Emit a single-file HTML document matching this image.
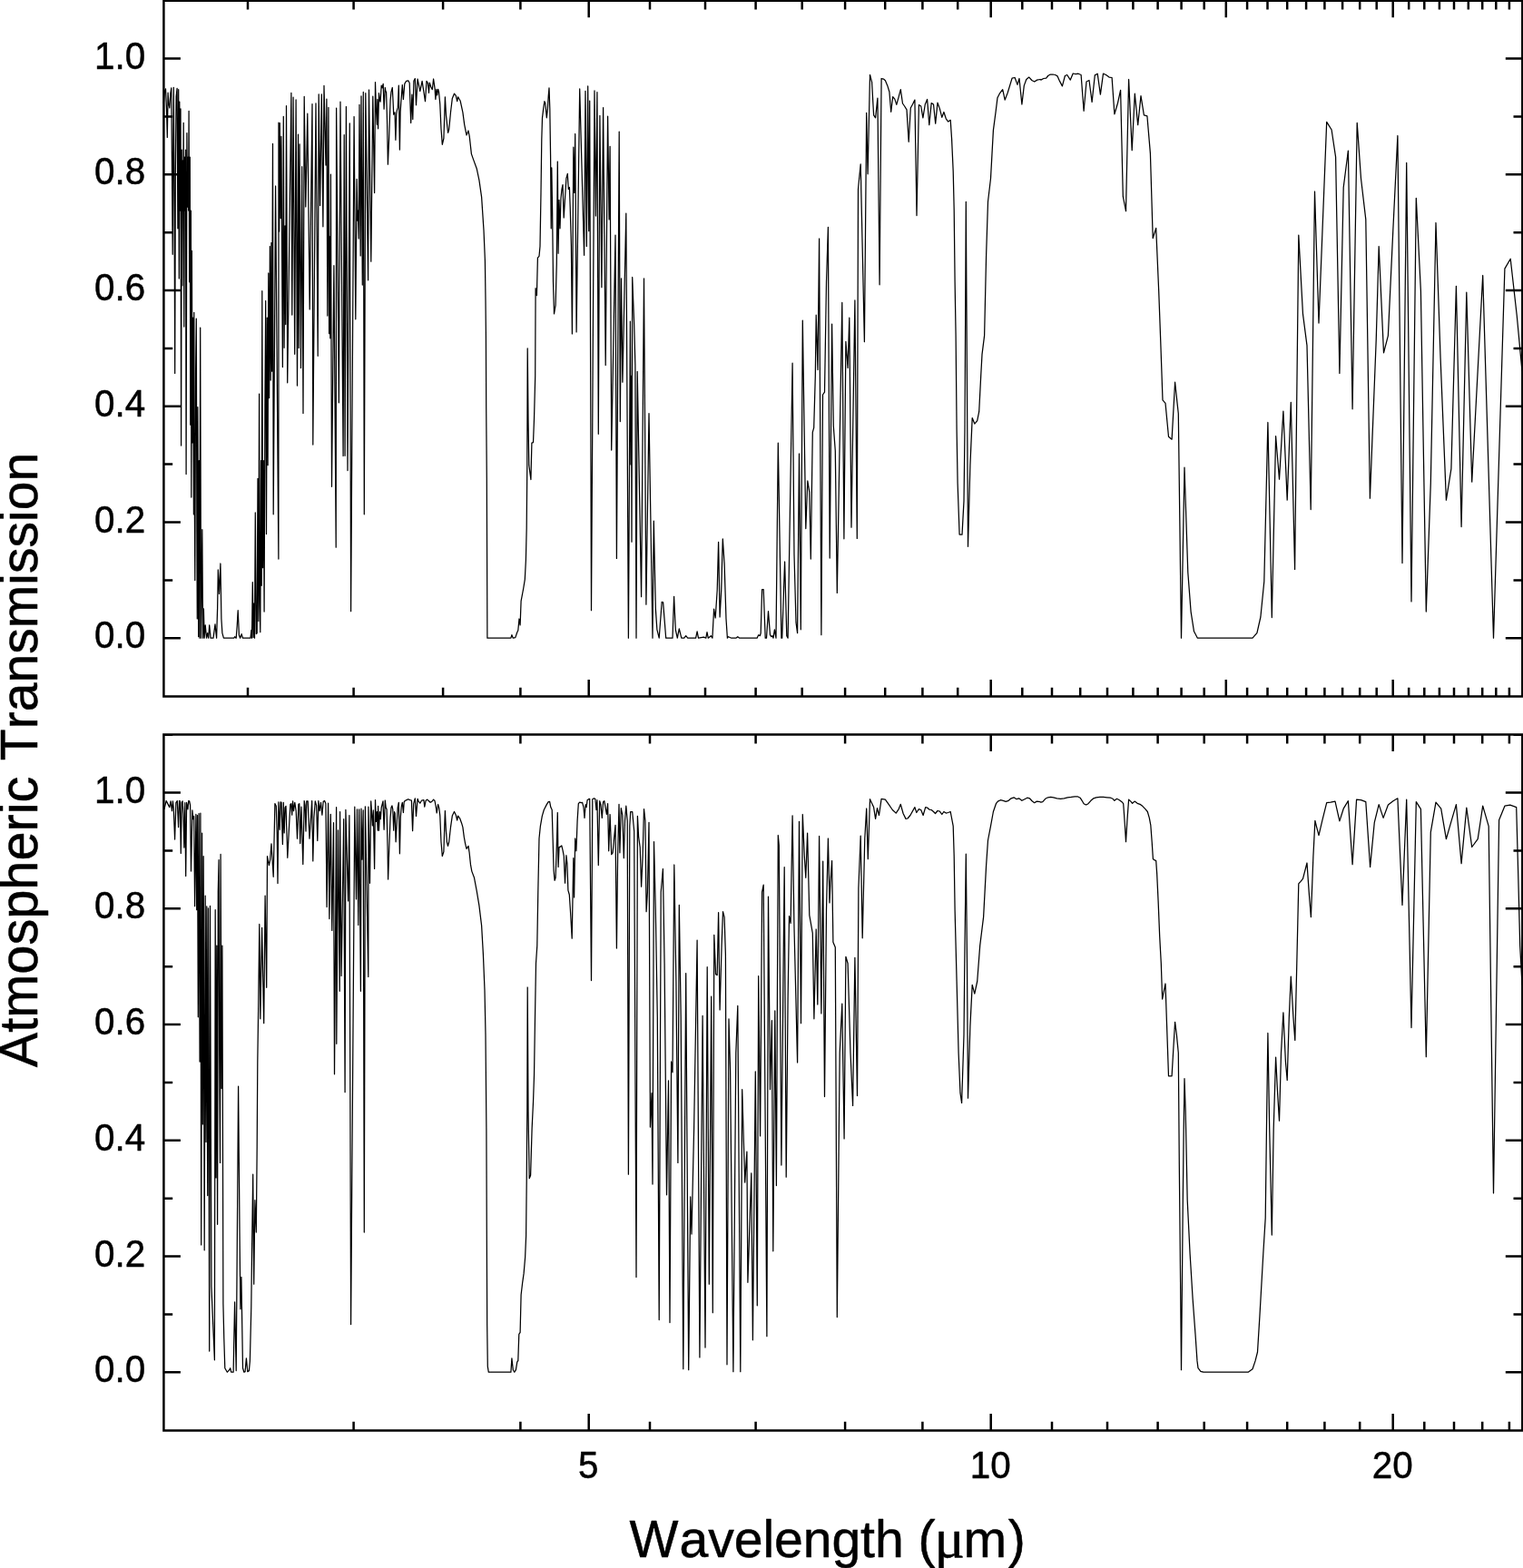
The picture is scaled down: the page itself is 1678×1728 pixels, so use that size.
<!DOCTYPE html>
<html lang="en"><head><meta charset="utf-8"><title>Atmospheric Transmission</title>
<style>
html,body{margin:0;padding:0;background:#fff;}
body{width:1678px;height:1728px;overflow:hidden;}
svg{display:block;}
text{font-family:"Liberation Sans",sans-serif;fill:#000;font-kerning:none;}
</style></head><body>
<svg width="1678" height="1728" viewBox="0 0 1678 1728">
<rect x="0" y="0" width="1678" height="1728" fill="#fff"/>
<path d="M180.3 114.0L181.5 100.3L182.5 97.9L183.5 119.9L184.3 151.4L185.1 102.2L185.8 114.0L186.8 119.0L187.8 103.2L188.8 96.9L189.4 173.1L190.2 280.3L190.8 153.4L191.3 96.3L192.1 232.1L192.7 411.4L193.3 192.7L194.1 106.2L195.1 97.3L195.9 251.8L196.7 98.7L197.3 306.9L197.8 112.1L198.4 232.1L199.0 119.9L199.6 491.1L200.2 165.2L200.8 314.7L201.4 177.0L201.8 232.1L202.2 135.3L202.8 360.0L203.4 173.1L203.9 232.1L204.5 165.2L205.1 522.5L205.9 146.5L206.5 228.2L207.1 173.1L207.7 232.1L208.1 122.3L208.7 310.8L209.3 173.1L209.8 468.2L210.4 232.1L210.8 548.1L211.4 276.4L212.0 487.9L212.6 350.2L213.4 566.8L213.8 344.3L214.2 527.3L214.8 639.6L215.6 409.2L216.3 351.2L216.9 586.3L217.3 681.9L217.9 448.6L218.7 701.6L219.3 507.6L219.9 703.2L220.7 361.0L221.5 703.2L222.2 645.3L222.8 583.6L223.6 703.2L224.4 670.9L225.2 703.2L226.2 688.9L227.6 703.2L228.7 697.7L229.7 703.2L230.7 688.9L232.1 703.2L235.0 703.2L237.0 687.9L238.6 703.2L239.6 670.2L240.3 627.9L241.5 654.4L242.9 621.0L243.9 682.0L244.9 697.7L246.4 703.2L257.7 703.2L258.6 701.7L260.2 703.2L261.2 689.8L262.2 672.7L263.4 699.7L264.6 703.2L266.1 698.7L267.5 703.2L276.0 703.2L276.9 694.5L277.5 703.2L278.3 641.6L279.1 702.4L279.9 665.0L280.5 703.2L281.3 564.9L282.3 698.5L283.2 697.7L284.0 527.3L284.8 684.7L285.6 434.0L286.2 665.0L286.8 696.7L287.6 507.6L288.2 645.3L288.8 320.7L289.5 625.7L290.3 507.6L291.1 674.1L291.9 448.6L292.7 331.5L293.5 588.5L294.3 350.2L295.1 512.7L295.8 301.0L296.6 438.7L297.4 271.5L298.2 419.0L299.0 267.5L299.6 409.2L300.5 158.4L301.2 566.8L303.6 205.0L306.9 616.0L307.0 135.0L307.7 255.1L308.3 135.5L309.2 240.6L309.9 150.3L311.4 404.5L312.3 128.3L313.1 383.3L314.0 248.9L314.7 357.5L315.5 116.7L316.7 421.8L320.9 102.3L321.8 347.0L323.1 107.2L324.7 390.3L326.1 109.9L327.5 425.1L328.5 148.1L329.2 383.4L330.1 158.8L331.5 405.5L332.7 183.7L334.0 455.6L335.2 106.3L336.8 227.9L338.8 125.2L341.2 340.9L344.0 114.6L344.8 490.1L348.0 113.8L350.2 392.3L351.2 103.8L352.6 226.5L354.3 103.9L355.9 249.8L357.0 94.4L359.0 182.1L359.9 109.2L360.8 348.1L361.9 118.4L362.6 367.7L363.0 260.5L363.8 372.8L364.4 192.0L365.5 536.3L367.9 292.7L370.2 603.2L370.6 119.1L373.4 443.8L375.0 112.2L378.1 502.5L379.2 148.5L380.1 502.3L381.4 117.5L383.0 518.6L385.3 135.9L386.6 673.7L390.1 128.5L391.8 351.8L393.1 197.4L393.9 243.2L394.4 232.1L395.2 263.0L396.0 115.3L397.2 281.9L398.0 105.9L399.3 314.1L400.3 101.4L401.3 566.8L402.8 102.7L405.6 308.8L406.5 99.0L408.8 288.2L410.8 106.2L412.6 212.6L413.5 90.6L414.4 120.2L415.3 137.3L415.9 109.5L416.6 141.8L417.5 102.7L418.4 110.4L419.1 112.2L420.2 94.2L421.1 96.9L422.2 92.4L423.1 120.2L424.3 96.5L424.9 100.5L425.6 101.4L426.5 132.8L427.4 181.2L428.7 150.7L430.1 110.4L431.0 101.4L432.3 96.5L433.0 110.4L433.7 126.1L435.0 123.8L435.9 154.3L436.8 125.6L437.3 122.0L438.3 118.4L439.3 94.2L440.4 165.1L441.1 123.8L441.8 113.1L443.3 93.5L444.4 109.5L445.8 92.4L447.6 89.3L449.8 88.8L451.2 91.5L452.7 135.5L453.9 104.1L454.8 131.5L455.9 89.3L457.3 86.6L458.5 115.8L460.1 87.0L462.8 100.5L465.1 89.3L468.5 111.7L470.0 89.3L471.4 91.5L472.5 102.3L473.3 91.1L474.9 96.0L476.3 98.7L477.6 87.0L479.0 96.9L479.9 109.5L480.8 98.3L481.7 105.0L482.6 98.3L483.5 101.0L484.8 114.9L486.0 141.8L487.3 159.3L488.9 152.5L490.4 106.8L491.5 127.4L493.6 146.3L494.7 142.7L496.5 123.8L498.3 108.6L500.5 103.2L502.3 105.4L503.7 111.7L504.6 106.8L507.2 111.3L509.9 123.8L511.7 137.3L514.0 148.9L516.0 144.0L517.3 150.7L519.4 169.6L521.6 175.9L525.2 185.7L527.9 198.3L530.6 217.1L533.0 253.7L534.4 287.2L535.0 330.5L535.4 369.8L535.7 448.6L536.3 527.3L536.7 645.3L536.9 703.2L562.9 703.2L563.9 699.7L565.3 703.2L567.8 702.6L569.8 696.7L570.8 694.8L572.0 682.0L573.1 688.9L574.1 662.3L576.7 648.5L578.3 638.7L579.4 617.0L580.2 581.6L580.8 512.7L581.2 383.9L582.0 463.6L582.8 512.7L584.9 528.5L585.9 488.2L587.5 487.6L588.5 461.6L589.7 414.4L590.1 317.7L591.4 325.6L592.4 284.2L594.0 282.3L595.0 271.5L596.0 212.4L596.8 153.4L597.5 129.8L598.7 119.9L599.9 111.7L600.9 114.0L602.3 129.8L603.4 119.9L604.2 106.2L605.0 96.9L605.8 119.9L606.6 173.1L607.2 251.8L607.8 184.9L608.6 232.1L609.5 310.8L610.5 345.8L612.1 336.4L613.3 291.1L614.3 178.0L615.1 279.3L616.0 220.3L617.0 251.8L618.0 218.3L619.0 208.5L620.0 203.6L621.2 240.0L622.3 222.3L623.9 196.7L625.3 191.4L626.3 208.5L627.4 206.5L628.2 228.2L629.4 271.5L630.4 367.9L631.8 162.2L632.8 212.4L633.7 147.5L635.1 365.9L638.7 97.9L643.6 281.3L645.0 100.3L646.3 271.5L647.7 94.9L648.7 254.7L649.7 111.1L651.5 672.7L655.0 99.9L656.4 238.0L657.9 101.6L659.3 478.3L660.9 127.4L662.9 316.7L664.6 118.6L667.2 402.5L669.6 128.2L671.1 241.9L672.1 161.3L673.7 496.0L678.0 259.1L679.4 615.4L682.2 145.1L683.3 464.5L684.5 306.9L685.9 421.2L689.8 235.1L692.4 703.2L694.4 354.1L695.0 511.9L695.6 414.4L696.0 597.2L696.7 305.5L698.7 358.0L699.9 402.4L701.0 703.2L702.2 409.4L706.6 657.7L709.5 306.9L711.9 666.2L715.0 455.6L719.0 703.2L720.3 574.1L722.3 670.2L723.9 693.8L726.2 703.2L729.2 663.3L730.6 663.9L733.7 703.2L741.0 703.2L742.6 657.4L744.3 693.8L746.3 703.2L748.3 692.8L750.8 703.2L753.8 703.2L755.7 700.7L757.7 703.2L766.6 703.2L768.1 695.8L769.5 703.2L775.4 702.1L777.8 703.2L779.0 696.7L780.3 703.2L783.3 700.7L784.9 703.2L786.6 671.2L788.2 681.0L790.2 650.5L791.6 597.4L793.1 680.0L794.7 650.5L796.3 593.8L798.1 621.0L800.0 682.0L801.4 703.2L802.6 701.7L805.9 703.2L810.8 703.2L812.8 701.7L814.8 703.2L826.0 703.2L826.2 703.2L834.1 703.2L835.7 699.7L837.3 700.7L838.2 697.7L839.6 649.5L841.2 649.5L843.2 703.2L844.5 703.2L846.5 673.7L848.5 699.7L849.8 701.7L851.0 700.7L852.0 703.2L853.4 693.8L855.0 703.2L857.3 488.2L860.9 703.2L861.7 703.2L864.6 619.0L866.8 700.7L868.1 703.2L873.1 400.2L875.0 611.1L877.0 685.9L878.6 697.7L880.5 500.0L882.3 693.8L884.3 353.1L887.8 582.6L889.8 529.9L891.8 542.3L893.3 616.1L895.3 476.3L896.7 471.4L898.3 414.4L899.2 347.2L901.0 407.5L902.6 263.0L904.9 699.7L906.5 435.0L908.5 432.1L910.5 310.8L912.4 250.4L914.2 615.1L916.6 357.1L918.3 469.5L920.3 497.0L922.3 653.4L927.8 333.4L929.9 593.8L931.9 376.3L934.1 405.5L935.8 350.2L938.0 581.2L941.9 330.9L944.3 593.4L945.5 208.5L948.2 180.9L952.4 376.7L954.7 124.3L956.1 191.8L958.5 82.5L960.6 90.4L962.6 126.8L964.6 129.8L966.9 108.1L969.1 313.8L971.1 86.5L973.4 87.1L975.4 88.8L977.8 94.4L979.9 101.2L981.7 123.3L983.7 106.6L985.8 109.1L987.8 115.4L990.2 106.6L992.3 98.7L994.5 114.0L996.6 117.0L999.0 120.9L1001.2 156.3L1003.3 119.0L1005.5 115.0L1007.9 110.1L1010.0 237.6L1012.4 115.6L1014.7 117.0L1016.9 129.8L1019.3 115.0L1021.6 109.5L1023.8 137.6L1026.2 113.6L1028.5 115.0L1030.7 136.1L1033.0 113.1L1035.4 119.9L1037.8 129.4L1039.9 123.5L1042.3 130.8L1044.7 134.1L1047.2 132.3L1048.6 153.4L1050.2 188.8L1051.2 232.1L1052.1 310.8L1053.1 369.8L1054.1 473.4L1055.1 532.4L1057.1 589.1L1060.0 589.1L1062.0 552.1L1063.0 473.4L1064.3 222.3L1066.5 602.3L1068.9 512.7L1071.2 460.6L1073.8 467.1L1076.7 463.6L1078.7 453.7L1080.7 414.4L1082.0 390.7L1084.6 369.8L1086.6 281.3L1088.5 222.3L1091.5 196.7L1094.4 143.6L1097.0 123.9L1099.0 107.7L1101.3 103.2L1104.7 98.7L1107.2 110.1L1110.2 102.2L1115.1 86.1L1118.1 85.5L1121.0 93.4L1123.0 86.5L1125.9 115.0L1128.3 94.4L1130.8 87.5L1133.8 85.1L1136.8 88.5L1139.7 90.0L1142.7 88.1L1146.0 87.5L1146.8 88.1L1149.8 86.5L1152.7 86.1L1154.7 83.5L1157.3 82.0L1160.0 82.0L1162.6 82.5L1165.1 83.9L1167.5 89.4L1170.4 94.9L1173.4 83.5L1175.7 82.5L1179.3 88.1L1182.2 81.0L1185.2 81.6L1188.1 81.2L1191.1 82.5L1194.1 122.3L1197.0 90.0L1200.0 88.5L1203.1 112.5L1206.3 82.9L1209.2 81.2L1212.4 104.2L1215.5 81.2L1218.6 82.5L1222.0 85.1L1225.1 85.5L1227.9 125.8L1231.4 114.0L1234.6 99.3L1237.3 216.4L1240.5 232.7L1243.6 87.5L1247.2 165.6L1250.3 103.2L1253.7 137.6L1257.0 105.6L1260.4 126.8L1263.9 127.8L1267.4 169.1L1270.2 262.6L1273.7 251.4L1276.7 320.7L1278.7 375.0L1281.0 440.9L1284.0 444.3L1287.5 481.3L1291.1 484.2L1294.6 421.2L1298.3 455.7L1301.5 703.2L1305.0 515.1L1308.8 630.8L1312.1 674.1L1315.5 695.8L1319.4 703.2L1380.0 703.2L1384.9 697.7L1388.9 680.0L1392.8 640.7L1396.9 465.5L1401.3 680.6L1405.6 480.7L1409.5 528.1L1413.9 453.1L1418.2 551.1L1422.3 443.3L1426.6 627.5L1430.8 259.1L1435.5 346.2L1440.0 380.9L1444.2 561.6L1448.5 211.0L1453.0 356.1L1461.7 134.3L1461.7 134.3L1467.1 143.0L1471.6 173.1L1475.9 411.4L1480.2 206.5L1485.4 166.2L1490.1 450.8L1495.2 135.3L1499.5 196.7L1504.8 241.9L1509.4 549.2L1516.2 375.0L1519.2 271.5L1524.5 388.8L1529.4 369.8L1534.9 251.8L1539.9 149.5L1545.0 620.6L1549.7 179.4L1555.0 662.9L1560.3 218.3L1565.4 320.7L1571.3 674.1L1576.3 532.4L1582.0 245.5L1587.1 395.0L1593.4 551.1L1598.9 516.7L1604.4 315.3L1610.1 580.6L1615.8 322.2L1621.7 531.1L1633.7 303.5L1645.5 703.2L1657.9 296.1L1664.2 285.2L1671.3 348.2L1677.0 409.2" fill="none" stroke="#000" stroke-width="1.25" stroke-linejoin="round" stroke-linecap="butt"/>
<path d="M180.9 891.9L183.2 882.5L185.0 886.1L186.8 889.7L188.1 882.9L189.5 893.7L190.4 882.9L191.3 891.0L192.6 925.1L193.9 884.7L195.3 882.5L196.6 911.7L197.5 882.5L198.4 882.9L199.3 940.4L200.2 884.3L201.1 882.9L202.0 896.4L202.9 934.1L203.8 884.7L204.7 965.5L205.6 884.3L207.0 891.9L207.8 882.5L208.7 882.9L209.6 887.4L210.5 960.1L211.9 892.8L212.8 902.7L213.7 899.5L214.6 998.7L215.9 897.3L215.9 897.5L216.7 1002.7L217.5 898.5L218.3 1120.8L219.1 896.5L220.1 1170.0L220.9 896.1L221.7 1371.9L222.6 918.1L223.4 1238.9L224.2 943.7L225.2 1377.8L226.2 987.0L227.0 1258.6L227.8 998.8L228.7 1317.6L229.5 1000.8L230.7 1489.0L231.5 998.4L232.9 1418.1L236.4 1498.8L237.2 1002.7L238.0 1297.9L238.8 1042.1L239.6 1349.3L240.3 983.1L241.1 947.6L241.7 1160.2L242.5 1281.4L243.1 941.4L244.1 1199.5L244.9 1042.1L245.9 1436.8L246.8 1475.0L247.8 1507.7L250.4 1512.2L252.7 1509.7L253.7 1507.7L254.7 1512.2L257.1 1512.2L258.6 1434.9L260.2 1510.6L261.4 1356.9L262.6 1197.2L264.0 1354.2L264.9 1442.7L265.9 1407.3L267.5 1507.7L268.9 1512.2L270.1 1511.6L271.4 1496.9L272.8 1511.6L274.4 1510.6L275.4 1499.8L276.8 1440.8L277.5 1381.7L278.7 1294.2L279.7 1415.2L280.9 1322.7L282.3 1358.1L283.2 1263.7L283.8 1170.0L284.8 1101.1L285.8 1018.5L286.8 1122.8L288.6 1022.4L290.7 1127.7L292.1 987.0L293.7 1088.3L294.5 943.7L296.4 953.6L297.6 947.6L299.0 929.9L301.2 966.3L302.9 885.6L304.3 888.3L305.2 917.9L306.0 973.6L306.9 883.8L308.2 914.3L309.1 883.8L310.0 884.3L311.4 930.5L312.3 884.3L313.2 917.9L314.1 890.1L315.0 888.3L316.8 945.3L318.6 909.9L319.9 886.5L320.8 885.6L321.7 898.2L322.6 882.9L323.5 893.7L324.8 884.3L326.2 893.7L327.5 924.2L328.9 886.5L329.8 885.6L330.7 929.6L332.0 889.2L333.8 952.5L335.2 882.5L336.1 887.4L337.0 916.1L337.8 882.9L339.2 882.9L341.0 924.2L342.3 905.4L343.7 882.5L344.8 948.9L345.9 900.9L347.3 882.9L348.6 887.4L349.8 926.5L350.9 882.5L352.2 893.7L353.5 884.3L354.9 898.2L356.2 883.4L357.6 882.5L358.9 885.6L360.1 999.6L361.6 885.2L362.9 1012.6L364.3 897.3L365.8 1025.4L367.5 906.7L368.5 1183.8L370.6 889.7L370.8 1150.3L372.5 914.9L374.2 1092.3L374.6 894.6L376.1 1075.6L378.7 902.7L380.1 1203.7L380.9 892.4L383.6 992.9L384.9 898.6L386.6 1459.5L390.8 889.2L392.5 990.9L393.5 891.9L394.8 1019.4L395.7 891.9L397.4 1092.3L398.0 891.0L398.9 947.2L400.2 892.8L401.3 1358.1L402.4 888.8L405.8 1076.5L406.0 889.2L407.5 973.3L408.7 882.9L410.4 909.9L411.3 892.8L412.6 957.4L413.5 881.6L414.4 905.4L415.3 894.6L416.2 915.2L416.6 888.3L417.5 915.2L418.4 894.6L419.3 902.7L420.2 890.1L422.0 882.9L423.1 914.3L424.3 882.0L425.2 890.1L426.1 891.9L427.0 932.3L427.6 969.1L428.7 936.8L430.1 900.9L431.0 890.1L431.9 887.9L432.8 891.9L433.7 915.2L434.6 894.6L435.2 896.4L436.1 927.8L437.3 905.4L438.2 890.1L439.3 884.3L440.4 940.8L441.3 900.9L442.2 889.2L443.3 884.3L444.4 895.5L445.2 883.8L446.2 882.5L448.0 881.6L449.8 880.7L451.6 881.6L453.4 882.0L454.6 915.7L455.7 885.6L457.3 879.8L458.5 899.4L460.1 880.3L461.0 882.9L462.8 885.2L464.6 882.0L466.9 881.6L467.8 889.2L469.1 882.5L470.5 881.1L472.3 882.5L474.1 884.3L475.8 883.4L477.6 881.1L479.0 882.5L480.3 889.2L481.2 896.0L482.6 886.5L483.7 890.1L484.8 899.1L486.0 927.8L487.3 943.5L488.9 938.6L489.8 909.9L490.4 893.5L491.4 915.2L492.4 927.8L493.5 932.3L494.7 927.8L496.5 911.7L498.3 899.1L500.5 894.4L502.3 898.2L503.7 904.0L504.6 899.1L506.8 902.2L508.6 907.2L509.9 911.7L511.3 922.4L512.6 929.6L514.0 935.4L516.0 932.3L517.1 939.5L518.5 952.9L519.8 960.1L522.5 967.3L525.2 981.6L527.9 997.8L530.6 1020.0L532.4 1051.9L534.0 1091.3L535.0 1140.5L535.9 1244.0L536.3 1362.1L536.7 1460.5L537.3 1505.8L538.3 1512.2L562.9 1512.2L563.9 1496.9L565.3 1509.7L566.8 1512.2L568.4 1509.7L569.8 1500.8L570.8 1499.5L571.8 1470.3L573.1 1468.4L574.1 1427.0L575.7 1413.3L577.1 1403.4L578.6 1385.7L579.6 1362.1L580.2 1303.1L580.8 1224.4L581.2 1088.0L582.0 1224.4L583.2 1298.7L584.6 1295.2L586.1 1244.0L587.5 1214.5L588.5 1185.0L589.5 1120.8L590.5 1061.8L591.8 1042.1L592.8 983.1L594.0 924.0L595.4 910.3L597.3 899.4L599.3 892.5L602.3 886.6L604.2 883.7L605.6 883.3L606.8 889.6L608.2 892.5L609.1 924.0L610.1 959.5L611.1 970.3L612.1 967.3L613.3 933.9L614.3 895.5L615.1 955.5L616.0 933.9L617.6 932.9L618.8 931.9L620.0 936.8L621.3 943.7L622.5 973.2L623.9 942.7L624.9 951.6L625.9 981.1L627.3 986.0L628.4 1002.7L630.2 1034.2L631.8 945.7L632.6 989.0L633.7 924.0L634.9 937.8L636.1 904.4L637.3 885.7L638.7 884.1L640.2 884.7L641.6 884.3L643.0 889.6L644.0 901.4L645.2 886.6L646.1 889.6L647.1 881.7L648.5 880.7L649.7 880.3L651.5 1080.5L652.8 880.7L654.4 879.8L655.8 880.3L657.0 892.5L657.9 881.7L659.3 953.6L660.7 882.7L661.9 886.6L663.3 901.4L664.6 883.7L665.8 882.7L667.2 890.6L668.4 897.5L669.6 885.7L670.7 937.8L672.1 897.5L673.7 941.7L675.1 939.8L676.6 924.0L678.0 909.3L679.4 1045.1L680.6 943.7L682.0 886.3L682.9 939.8L684.3 890.6L685.9 898.5L687.3 945.7L688.5 904.4L689.8 888.2L691.2 904.4L692.4 1294.2L693.8 910.3L694.7 894.5L696.7 894.5L698.7 916.2L701.0 1407.4L702.4 899.4L703.6 922.1L705.2 933.9L706.6 977.2L708.1 943.7L709.5 891.6L710.9 904.4L712.1 1004.7L713.4 983.1L715.0 906.3L716.4 1242.1L718.0 1204.7L719.0 1305.0L720.5 927.6L722.3 1002.7L724.3 1120.8L726.2 1454.6L728.2 983.1L730.4 957.5L732.1 1061.8L734.5 1316.8L736.5 1190.9L738.0 1457.5L739.6 1170.0L741.0 1181.8L742.8 953.0L744.9 1081.5L746.9 1281.4L748.3 997.4L750.2 1120.8L752.8 1508.7L755.7 1072.6L758.7 1509.7L760.7 1318.8L762.0 1360.1L764.6 1244.0L768.1 1036.2L770.9 1495.9L774.1 1119.4L777.0 1485.1L779.2 1065.7L781.3 1415.2L783.7 1098.2L785.3 1446.7L786.8 1030.3L788.6 1073.6L790.2 1074.6L791.6 1005.7L793.1 1112.9L795.1 1042.1L796.5 1004.7L798.1 1010.6L799.4 1051.9L801.0 1503.8L803.0 1122.8L804.6 1179.8L807.9 1511.7L810.8 1160.2L812.8 1108.4L815.8 1511.7L817.7 1200.7L820.7 1303.1L822.9 1269.2L823.9 1413.3L827.8 1292.8L829.4 1476.8L832.3 1180.8L834.3 1438.8L835.7 1075.6L837.6 1251.9L839.6 983.1L841.2 975.2L844.9 1472.7L846.5 988.0L848.5 1200.7L850.4 1124.7L851.8 1378.8L853.8 1113.9L855.4 1306.6L857.3 920.5L858.3 931.9L860.9 1284.0L864.2 955.5L866.2 1297.2L868.1 1101.1L869.5 1009.6L871.1 1017.5L873.1 898.8L875.0 1022.4L878.6 1171.0L880.5 905.3L882.5 1127.7L884.3 897.5L886.3 943.7L887.8 967.3L889.6 918.1L891.8 1008.6L895.3 1028.3L896.9 1122.8L899.2 1024.0L900.8 1107.0L902.6 921.5L904.9 1116.9L906.7 949.2L908.5 1208.6L910.5 1002.7L912.4 924.0L914.0 994.9L915.0 972.2L916.6 948.6L917.9 1038.2L920.3 1044.1L922.3 1451.6L925.2 1160.2L927.8 1106.1L930.1 1254.9L931.9 1054.3L934.1 1061.8L937.0 1160.2L939.6 1218.5L941.9 1055.3L944.5 1207.6L945.9 979.1L948.2 921.1L950.2 1033.8L952.8 924.0L954.7 891.0L956.3 946.7L958.5 880.7L962.6 889.6L964.6 902.4L966.5 890.6L968.5 898.5L971.1 880.3L975.4 881.1L979.3 886.6L983.3 892.5L987.2 896.1L990.2 891.6L992.3 886.3L995.1 896.5L998.0 902.4L1000.0 902.0L1002.9 898.5L1007.9 889.6L1009.8 895.5L1012.4 891.6L1014.7 892.5L1017.1 898.5L1019.7 889.6L1021.6 890.0L1024.0 892.2L1026.2 892.5L1028.5 894.5L1030.5 896.5L1033.0 893.5L1035.4 894.1L1037.8 897.5L1039.9 894.5L1042.3 896.1L1044.7 895.5L1047.2 894.5L1050.2 910.3L1051.2 943.7L1052.1 1002.7L1054.1 1081.5L1056.1 1160.2L1058.0 1204.7L1059.6 1215.5L1062.0 1140.5L1063.0 1042.1L1064.3 941.2L1065.5 1061.8L1066.5 1210.2L1068.9 1130.7L1071.2 1085.4L1073.8 1095.2L1076.7 1081.5L1079.7 1042.1L1083.6 1010.6L1086.6 953.6L1088.5 926.0L1091.5 910.3L1094.4 894.5L1097.4 885.7L1099.4 883.1L1102.3 881.7L1105.3 882.3L1108.2 883.3L1111.2 882.3L1114.1 879.8L1117.1 878.8L1120.0 880.7L1122.6 879.8L1125.9 882.3L1128.9 880.7L1131.8 879.2L1134.4 879.8L1137.1 882.7L1139.7 884.7L1142.3 883.1L1146.0 883.7L1146.8 884.1L1148.8 883.7L1151.7 880.3L1154.7 878.8L1157.6 878.4L1160.6 878.8L1164.5 879.8L1168.5 880.3L1172.4 879.8L1176.3 878.8L1180.3 878.4L1184.2 877.8L1187.2 877.8L1190.1 879.2L1192.1 882.3L1194.1 885.7L1196.6 887.0L1199.0 885.7L1201.9 882.3L1204.9 879.8L1207.8 878.8L1211.8 878.4L1215.7 878.4L1219.6 878.8L1223.6 879.2L1226.1 880.3L1227.9 882.3L1230.5 880.3L1233.4 881.7L1236.0 883.7L1237.7 885.7L1239.3 908.3L1240.5 927.6L1241.9 904.4L1243.6 881.1L1245.8 883.1L1247.6 885.3L1250.1 883.1L1253.1 885.3L1256.0 886.3L1259.0 888.6L1261.9 891.6L1264.3 894.5L1266.3 901.4L1267.8 909.3L1269.2 928.0L1270.4 946.7L1271.8 947.6L1273.7 948.6L1274.7 963.4L1276.1 992.9L1277.7 1032.3L1279.3 1061.8L1280.6 1101.1L1284.0 1084.0L1285.6 1130.7L1287.5 1185.8L1291.1 1185.8L1292.8 1156.2L1294.6 1126.3L1296.4 1140.5L1298.3 1160.2L1299.3 1283.4L1300.3 1381.8L1301.5 1509.7L1303.3 1322.7L1304.2 1244.0L1305.0 1188.5L1306.2 1224.4L1308.2 1322.7L1311.1 1381.8L1314.1 1431.0L1317.0 1470.3L1319.0 1499.9L1320.0 1507.7L1322.9 1511.3L1325.9 1512.2L1375.1 1512.2L1380.0 1508.7L1383.0 1499.9L1385.5 1490.0L1387.9 1450.7L1391.8 1381.8L1394.2 1342.4L1395.7 1224.4L1396.9 1138.5L1398.7 1244.0L1401.3 1361.1L1403.2 1244.0L1405.6 1165.1L1407.6 1204.7L1409.5 1235.2L1411.5 1160.2L1413.9 1115.9L1416.4 1170.0L1418.2 1190.5L1420.3 1120.8L1422.3 1076.1L1424.9 1120.8L1426.8 1146.4L1428.8 1061.8L1430.8 973.8L1433.1 971.3L1435.5 968.3L1440.0 951.0L1442.2 983.1L1444.4 1010.6L1446.9 943.7L1448.9 904.4L1450.8 912.2L1453.0 920.7L1456.8 904.4L1461.7 884.7L1461.7 884.7L1466.1 884.1L1471.0 883.1L1475.9 904.9L1480.2 891.2L1485.4 882.7L1490.1 952.6L1494.6 881.1L1499.5 881.7L1504.8 883.7L1509.6 955.5L1514.3 906.3L1519.2 886.6L1524.1 901.4L1529.4 887.0L1534.9 882.7L1539.9 879.8L1545.0 997.4L1549.7 881.1L1555.0 1132.6L1560.3 883.7L1565.4 891.6L1571.3 1164.7L1576.3 917.1L1582.0 884.1L1587.7 891.2L1593.4 924.6L1598.9 905.3L1604.4 886.6L1610.1 951.6L1615.8 890.2L1621.7 933.5L1628.2 924.6L1633.7 888.2L1640.2 910.7L1645.5 1314.9L1651.6 903.8L1657.9 888.2L1663.8 887.2L1670.7 889.6L1672.7 963.4L1674.7 1042.1L1677.0 1085.4" fill="none" stroke="#000" stroke-width="1.25" stroke-linejoin="round" stroke-linecap="butt"/>
<path d="M180.4 0.8H1677.3V767.5H180.4ZM273.0 0.8v9.8M389.6 0.8v9.8M488.1 0.8v9.8M573.4 0.8v9.8M648.7 0.8v18.5M716.0 0.8v9.8M777.0 0.8v9.8M832.6 0.8v9.8M883.7 0.8v9.8M931.1 0.8v9.8M975.2 0.8v9.8M1016.4 0.8v9.8M1055.2 0.8v9.8M1091.7 0.8v18.5M1126.3 0.8v9.8M1159.0 0.8v9.8M1190.2 0.8v9.8M1220.0 0.8v9.8M1248.4 0.8v9.8M1275.6 0.8v9.8M1301.6 0.8v9.8M1326.7 0.8v9.8M1350.8 0.8v18.5M1374.1 0.8v9.8M1396.5 0.8v9.8M1418.2 0.8v9.8M1439.1 0.8v9.8M1459.4 0.8v9.8M1479.1 0.8v9.8M1498.2 0.8v9.8M1516.7 0.8v9.8M1534.7 0.8v18.5M1552.2 0.8v9.8M1569.3 0.8v9.8M1585.9 0.8v9.8M1602.0 0.8v9.8M1617.8 0.8v9.8M1633.2 0.8v9.8M1648.3 0.8v9.8M1662.9 0.8v9.8M273.0 767.5v-9.8M389.6 767.5v-9.8M488.1 767.5v-9.8M573.4 767.5v-9.8M648.7 767.5v-18.5M716.0 767.5v-9.8M777.0 767.5v-9.8M832.6 767.5v-9.8M883.7 767.5v-9.8M931.1 767.5v-9.8M975.2 767.5v-9.8M1016.4 767.5v-9.8M1055.2 767.5v-9.8M1091.7 767.5v-18.5M1126.3 767.5v-9.8M1159.0 767.5v-9.8M1190.2 767.5v-9.8M1220.0 767.5v-9.8M1248.4 767.5v-9.8M1275.6 767.5v-9.8M1301.6 767.5v-9.8M1326.7 767.5v-9.8M1350.8 767.5v-18.5M1374.1 767.5v-9.8M1396.5 767.5v-9.8M1418.2 767.5v-9.8M1439.1 767.5v-9.8M1459.4 767.5v-9.8M1479.1 767.5v-9.8M1498.2 767.5v-9.8M1516.7 767.5v-9.8M1534.7 767.5v-18.5M1552.2 767.5v-9.8M1569.3 767.5v-9.8M1585.9 767.5v-9.8M1602.0 767.5v-9.8M1617.8 767.5v-9.8M1633.2 767.5v-9.8M1648.3 767.5v-9.8M1662.9 767.5v-9.8M180.4 703.2h18.5M1677.3 703.2h-18.5M180.4 639.4h9.8M1677.3 639.4h-9.8M180.4 575.5h18.5M1677.3 575.5h-18.5M180.4 511.6h9.8M1677.3 511.6h-9.8M180.4 447.8h18.5M1677.3 447.8h-18.5M180.4 383.9h9.8M1677.3 383.9h-9.8M180.4 320.0h18.5M1677.3 320.0h-18.5M180.4 256.2h9.8M1677.3 256.2h-9.8M180.4 192.3h18.5M1677.3 192.3h-18.5M180.4 128.4h9.8M1677.3 128.4h-9.8M180.4 64.5h18.5M1677.3 64.5h-18.5M180.4 0.7h9.8M1677.3 0.7h-9.8" fill="none" stroke="#000" stroke-width="2.5" stroke-linecap="butt" stroke-linejoin="miter"/>
<path d="M180.4 809.6H1677.3V1576.5H180.4ZM389.6 809.6v9.8M573.4 809.6v9.8M716.0 809.6v9.8M832.6 809.6v9.8M931.1 809.6v9.8M1016.4 809.6v9.8M1091.7 809.6v18.5M1159.0 809.6v9.8M1220.0 809.6v9.8M1275.6 809.6v9.8M1326.7 809.6v9.8M1374.1 809.6v9.8M1418.2 809.6v9.8M1459.4 809.6v9.8M1498.2 809.6v9.8M1534.7 809.6v18.5M1569.3 809.6v9.8M1602.0 809.6v9.8M1633.2 809.6v9.8M1662.9 809.6v9.8M389.6 1576.5v-9.8M573.4 1576.5v-9.8M716.0 1576.5v-9.8M832.6 1576.5v-9.8M931.1 1576.5v-9.8M1016.4 1576.5v-9.8M1091.7 1576.5v-18.5M1159.0 1576.5v-9.8M1220.0 1576.5v-9.8M1275.6 1576.5v-9.8M1326.7 1576.5v-9.8M1374.1 1576.5v-9.8M1418.2 1576.5v-9.8M1459.4 1576.5v-9.8M1498.2 1576.5v-9.8M1534.7 1576.5v-18.5M1569.3 1576.5v-9.8M1602.0 1576.5v-9.8M1633.2 1576.5v-9.8M1662.9 1576.5v-9.8M648.7 1576.5v-18.5M180.4 1512.3h18.5M1677.3 1512.3h-18.5M180.4 1448.4h9.8M1677.3 1448.4h-9.8M180.4 1384.6h18.5M1677.3 1384.6h-18.5M180.4 1320.7h9.8M1677.3 1320.7h-9.8M180.4 1256.8h18.5M1677.3 1256.8h-18.5M180.4 1192.9h9.8M1677.3 1192.9h-9.8M180.4 1129.1h18.5M1677.3 1129.1h-18.5M180.4 1065.2h9.8M1677.3 1065.2h-9.8M180.4 1001.3h18.5M1677.3 1001.3h-18.5M180.4 937.5h9.8M1677.3 937.5h-9.8M180.4 873.6h18.5M1677.3 873.6h-18.5M180.4 809.7h9.8M1677.3 809.7h-9.8" fill="none" stroke="#000" stroke-width="2.5" stroke-linecap="butt" stroke-linejoin="miter"/>
<text transform="translate(160.1,714.2) scale(1,1.05)" font-size="40.4" text-anchor="end" stroke="#000" stroke-width="0.5">0.0</text>
<text transform="translate(160.1,586.5) scale(1,1.05)" font-size="40.4" text-anchor="end" stroke="#000" stroke-width="0.5">0.2</text>
<text transform="translate(160.1,458.8) scale(1,1.05)" font-size="40.4" text-anchor="end" stroke="#000" stroke-width="0.5">0.4</text>
<text transform="translate(160.1,331.0) scale(1,1.05)" font-size="40.4" text-anchor="end" stroke="#000" stroke-width="0.5">0.6</text>
<text transform="translate(160.1,203.3) scale(1,1.05)" font-size="40.4" text-anchor="end" stroke="#000" stroke-width="0.5">0.8</text>
<text transform="translate(160.1,75.5) scale(1,1.05)" font-size="40.4" text-anchor="end" stroke="#000" stroke-width="0.5">1.0</text>
<text transform="translate(160.1,1523.3) scale(1,1.05)" font-size="40.4" text-anchor="end" stroke="#000" stroke-width="0.5">0.0</text>
<text transform="translate(160.1,1395.6) scale(1,1.05)" font-size="40.4" text-anchor="end" stroke="#000" stroke-width="0.5">0.2</text>
<text transform="translate(160.1,1267.8) scale(1,1.05)" font-size="40.4" text-anchor="end" stroke="#000" stroke-width="0.5">0.4</text>
<text transform="translate(160.1,1140.1) scale(1,1.05)" font-size="40.4" text-anchor="end" stroke="#000" stroke-width="0.5">0.6</text>
<text transform="translate(160.1,1012.3) scale(1,1.05)" font-size="40.4" text-anchor="end" stroke="#000" stroke-width="0.5">0.8</text>
<text transform="translate(160.1,884.6) scale(1,1.05)" font-size="40.4" text-anchor="end" stroke="#000" stroke-width="0.5">1.0</text>
<text transform="translate(648.2,1628.6) scale(1,1.05)" font-size="40.4" text-anchor="middle" stroke="#000" stroke-width="0.5">5</text>
<text transform="translate(1091.2,1628.6) scale(1,1.05)" font-size="40.4" text-anchor="middle" stroke="#000" stroke-width="0.5">10</text>
<text transform="translate(1534.2,1628.6) scale(1,1.05)" font-size="40.4" text-anchor="middle" stroke="#000" stroke-width="0.5">20</text>
<g font-size="57.2" stroke="#000" stroke-width="0.5" stroke-linejoin="round">
<text x="693.5" y="1716.1">W<tspan x="748.5" letter-spacing="-0.1">avelength (</tspan><tspan x="1029.4" style="font-family:'Liberation Serif','DejaVu Serif',serif;font-size:62.3px">μ</tspan><tspan x="1061.5">m</tspan><tspan dx="1.5">)</tspan></text>
<text transform="translate(41.1,1176.2) rotate(-90) scale(1,1.02)"><tspan font-size="57.7">Atmospheric </tspan><tspan x="338" font-size="57.1">Transmission</tspan></text>
</g>
</svg>
</body></html>
